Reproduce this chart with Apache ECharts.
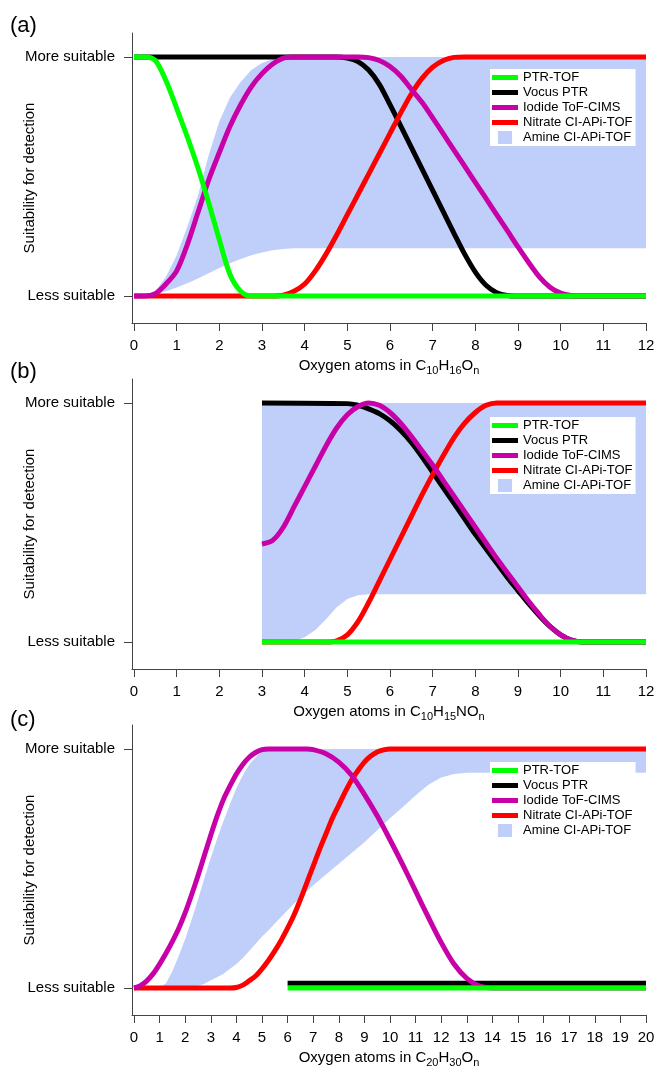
<!DOCTYPE html>
<html><head><meta charset="utf-8">
<script src="https://cdn.jsdelivr.net/npm/echarts@6/dist/echarts.min.js"></script>
<style>html,body{margin:0;padding:0;background:#fff}#c{width:656px;height:1067px}</style>
</head><body><div id="c"></div>
<script>
// ---------- data ----------
const seriesNames = ['PTR-TOF', 'Vocus PTR', 'Iodide ToF-CIMS', 'Nitrate CI-APi-TOF', 'Amine CI-APi-TOF'];
const yTickValues = [0, 1];
const yTickLabels = ['Less suitable', 'More suitable'];
const panelLabels = ['(a)', '(b)', '(c)'];
const xTicks12 = [0,1,2,3,4,5,6,7,8,9,10,11,12];
const xTicks20 = [0,1,2,3,4,5,6,7,8,9,10,11,12,13,14,15,16,17,18,19,20];

// Panel (a): C10H16On
const a_ptr = [[0,1],[0.25,1],[0.5,0.985],[0.75,0.9],[1,0.785],[1.25,0.665],[1.5,0.535],[1.75,0.39],[2,0.235],[2.25,0.09],[2.5,0.02],[2.75,0],[12,0]];
const a_vocus = [[0,1],[4.75,1],[5,0.995],[5.25,0.98],[5.5,0.945],[5.75,0.885],[6,0.8],[6.25,0.712],[6.5,0.622],[6.75,0.532],[7,0.442],[7.25,0.352],[7.5,0.262],[7.75,0.175],[8,0.1],[8.25,0.045],[8.5,0.014],[8.75,0.002],[9,0],[12,0]];
const a_iodide = [[0,0],[0.25,0],[0.5,0.01],[0.75,0.05],[1,0.105],[1.25,0.215],[1.5,0.35],[1.75,0.485],[2,0.6],[2.25,0.71],[2.5,0.8],[2.75,0.875],[3,0.93],[3.25,0.97],[3.5,0.995],[3.75,1],[5.25,1],[5.5,0.997],[5.75,0.985],[6,0.96],[6.25,0.92],[6.5,0.865],[6.75,0.81],[7,0.745],[7.25,0.678],[7.5,0.61],[7.75,0.543],[8,0.475],[8.25,0.408],[8.5,0.34],[8.75,0.273],[9,0.205],[9.25,0.14],[9.5,0.08],[9.75,0.037],[10,0.012],[10.25,0.002],[10.5,0],[12,0]];
const a_nitrate = [[0,0],[3.25,0],[3.5,0.003],[3.75,0.02],[4,0.05],[4.25,0.105],[4.5,0.175],[4.75,0.255],[5,0.34],[5.25,0.425],[5.5,0.51],[5.75,0.595],[6,0.68],[6.25,0.765],[6.5,0.845],[6.75,0.91],[7,0.957],[7.25,0.985],[7.5,0.998],[7.75,1],[12,1]];
const a_amineX    = [0.25,0.5,0.75,1,1.25,1.5,1.75,2,2.25,2.5,2.75,3,3.25,3.5,3.75,12];
const a_amineLow  = [0,0.008,0.02,0.035,0.053,0.073,0.095,0.117,0.137,0.155,0.17,0.182,0.191,0.197,0.2,0.2];
const a_amineHigh = [0,0.02,0.08,0.17,0.29,0.42,0.59,0.73,0.83,0.895,0.945,0.975,0.99,0.998,1,1];

// Panel (b): C10H15NOn
const b_ptr = [[3,0],[12,0]];
const b_vocus = [[3,1],[5,0.997],[5.25,0.99],[5.5,0.975],[5.75,0.955],[6,0.925],[6.25,0.885],[6.5,0.835],[6.75,0.775],[7,0.71],[7.25,0.645],[7.5,0.58],[7.75,0.515],[8,0.45],[8.25,0.39],[8.5,0.33],[8.75,0.27],[9,0.215],[9.25,0.16],[9.5,0.11],[9.75,0.065],[10,0.03],[10.25,0.008],[10.5,0],[12,0]];
const b_iodide = [[3,0.41],[3.25,0.425],[3.5,0.48],[3.75,0.565],[4,0.65],[4.25,0.735],[4.5,0.82],[4.75,0.895],[5,0.95],[5.25,0.985],[5.5,1],[5.75,0.99],[6,0.96],[6.25,0.915],[6.5,0.86],[6.75,0.8],[7,0.74],[7.25,0.675],[7.5,0.61],[7.75,0.545],[8,0.48],[8.25,0.415],[8.5,0.35],[8.75,0.29],[9,0.23],[9.25,0.17],[9.5,0.115],[9.75,0.065],[10,0.03],[10.25,0.008],[10.5,0],[12,0]];
const b_nitrate = [[3,0],[4.5,0],[4.75,0.005],[5,0.03],[5.25,0.085],[5.5,0.165],[5.75,0.255],[6,0.345],[6.25,0.435],[6.5,0.525],[6.75,0.615],[7,0.7],[7.25,0.78],[7.5,0.855],[7.75,0.915],[8,0.96],[8.25,0.99],[8.5,1],[12,1]];
const b_amineX    = [3,3.5,3.75,4,4.25,4.5,4.75,5,5.25,5.5,12];
const b_amineLow  = [0,0,0.003,0.02,0.05,0.095,0.145,0.18,0.195,0.2,0.2];
const b_amineHigh = [1,1,1,1,1,1,1,1,1,1,1];

// Panel (c): C20H30On
const c_ptr = [[6,0],[20,0]];
const c_vocus = [[6,0.02],[20,0.02]];
const c_iodide = [[0,0],[0.25,0.01],[0.5,0.03],[0.75,0.06],[1,0.1],[1.25,0.145],[1.5,0.195],[1.75,0.25],[2,0.315],[2.25,0.39],[2.5,0.47],[2.75,0.555],[3,0.64],[3.25,0.72],[3.5,0.79],[3.75,0.845],[4,0.895],[4.25,0.935],[4.5,0.965],[4.75,0.985],[5,0.997],[5.25,1],[6.75,1],[7,0.997],[7.5,0.98],[8,0.945],[8.5,0.89],[9,0.81],[9.5,0.72],[10,0.62],[10.5,0.515],[11,0.405],[11.5,0.295],[12,0.19],[12.5,0.1],[13,0.04],[13.5,0.008],[14,0],[20,0]];
const c_nitrate = [[0,0],[3.75,0],[4,0.002],[4.25,0.012],[4.5,0.03],[4.75,0.05],[5,0.08],[5.25,0.115],[5.5,0.155],[5.75,0.2],[6,0.25],[6.25,0.305],[6.5,0.37],[6.75,0.44],[7,0.51],[7.25,0.58],[7.5,0.645],[7.75,0.71],[8,0.765],[8.25,0.82],[8.5,0.87],[8.75,0.91],[9,0.945],[9.25,0.97],[9.5,0.987],[9.75,0.996],[10,1],[20,1]];
const c_amineX    = [1,1.25,1.5,1.75,2,2.25,2.5,2.75,3,3.25,3.5,3.75,4,4.25,4.5,4.75,5,5.25,5.5,6,6.5,7,7.5,8,8.5,9,9.5,10,10.5,11,11.5,12,12.5,13,20];
const c_amineLow  = [0,0,0,0,0,0.002,0.008,0.018,0.032,0.045,0.06,0.08,0.1,0.125,0.155,0.185,0.215,0.24,0.27,0.325,0.38,0.43,0.475,0.52,0.565,0.61,0.66,0.71,0.757,0.805,0.85,0.88,0.895,0.9,0.9];
const c_amineHigh = [0,0.02,0.07,0.135,0.205,0.285,0.37,0.46,0.545,0.625,0.7,0.77,0.835,0.89,0.935,0.965,0.99,1,1,1,1,1,1,1,1,1,1,1,1,1,1,1,1,1,1];

// ---------- styling & layout ----------
const COLORS = {ptr:'#00FF00', vocus:'#000000', iodide:'#C800A8', nitrate:'#FF0000', amine:'#BFCFFA'};
const AXIS = '#444444';
const FONT = 'Liberation Sans, Arial, Helvetica, sans-serif';
const gridTops = [33, 379, 725];
const legendTops = [69, 417, 762];
const titleTops = [15, 361, 709];
// small left pad so the x axis line meets the y axis (2 px before 0)
const xMins = [-2 / 42.667, -2 / 42.667, -2 / 25.6];
const xMaxes = [12, 12, 20];
const xTickSets = [xTicks12, xTicks12, xTicks20];
const xNames = [
  '{m|Oxygen atoms in C}{s|10}{m|H}{s|16}{m|O}{s|n}',
  '{m|Oxygen atoms in C}{s|10}{m|H}{s|15}{m|NO}{s|n}',
  '{m|Oxygen atoms in C}{s|20}{m|H}{s|30}{m|O}{s|n}'
];
const panels = [
  {ptr:a_ptr, vocus:a_vocus, iodide:a_iodide, nitrate:a_nitrate, ax:a_amineX, lo:a_amineLow, hi:a_amineHigh},
  {ptr:b_ptr, vocus:b_vocus, iodide:b_iodide, nitrate:b_nitrate, ax:b_amineX, lo:b_amineLow, hi:b_amineHigh},
  {ptr:c_ptr, vocus:c_vocus, iodide:c_iodide, nitrate:c_nitrate, ax:c_amineX, lo:c_amineLow, hi:c_amineHigh}
];

const grid = [], xAxis = [], yAxis = [], series = [], legend = [], title = [];
const lineIcon = 'path://M0,0H26V5H0Z';
const boxIcon = 'path://M0,0H13V12H0Z';

panels.forEach((p, i) => {
  grid.push({left:132, right:10, top:gridTops[i], height:290, containLabel:false, outerBoundsMode:'none'});
  xAxis.push({
    gridIndex:i, type:'value', min:xMins[i], max:xMaxes[i],
    axisLine:{show:true, onZero:false, lineStyle:{color:AXIS, width:1}},
    axisTick:{show:true, length:8, customValues:xTickSets[i], lineStyle:{color:AXIS}},
    axisLabel:{customValues:xTickSets[i], fontSize:15, color:'#000', margin:15, fontFamily:FONT},
    splitLine:{show:false},
    name:xNames[i], nameLocation:'middle', nameGap:35, nameMoveOverlap:false,
    nameTextStyle:{fontFamily:FONT, color:'#000', rich:{
      m:{fontSize:15, verticalAlign:'top', fontFamily:FONT, color:'#000'},
      s:{fontSize:11, verticalAlign:'top', padding:[7,0,0,0], fontFamily:FONT, color:'#000'}
    }}
  });
  yAxis.push({
    gridIndex:i, type:'value', min:-0.113, max:1.1,
    axisLine:{show:true, onZero:false, lineStyle:{color:AXIS, width:1}},
    axisTick:{show:true, length:8, customValues:yTickValues, lineStyle:{color:AXIS}},
    axisLabel:{customValues:yTickValues, formatter:v => yTickLabels[yTickValues.indexOf(v)],
      fontSize:15, color:'#000', margin:17, fontFamily:FONT},
    splitLine:{show:false},
    name:'Suitability for detection', nameLocation:'middle', nameGap:95, nameMoveOverlap:false,
    nameTextStyle:{fontSize:15, color:'#000', fontFamily:FONT}
  });
  title.push({text:panelLabels[i], left:10, top:titleTops[i], padding:0,
    textStyle:{fontSize:22, fontWeight:'normal', color:'#000', fontFamily:FONT}});
  legend.push({
    orient:'vertical', left:490, top:legendTops[i], itemWidth:26, itemHeight:13, itemGap:2,
    padding:[2,3,2,2], backgroundColor:'#fff', selectedMode:false,
    itemStyle:{borderWidth:0},
    textStyle:{fontSize:13, lineHeight:13, color:'#000', fontFamily:FONT},
    data: seriesNames.map((n, k) => ({name:n, icon: k < 4 ? lineIcon : boxIcon}))
  });

  // amine band: one polygon between the upper and lower boundaries, placed via the axes
  series.push({
    name:seriesNames[4], type:'custom', xAxisIndex:i, yAxisIndex:i, z:1, silent:true,
    itemStyle:{color:COLORS.amine},
    encode:{x:0, y:[1,2]},
    data: p.ax.map((x, k) => [x, p.lo[k], p.hi[k]]),
    renderItem: (params, api) => {
      if (params.dataIndex !== 0) return null;
      const pts = [];
      for (let k = 0; k < p.ax.length; k++) pts.push(api.coord([p.ax[k], p.hi[k]]));
      for (let k = p.ax.length - 1; k >= 0; k--) pts.push(api.coord([p.ax[k], p.lo[k]]));
      return {type:'polygon', shape:{points:pts}, style:{fill:COLORS.amine, stroke:null}};
    }
  });
  const lines = [
    ['vocus', 1, p.vocus], ['nitrate', 3, p.nitrate], ['iodide', 2, p.iodide], ['ptr', 0, p.ptr]
  ];
  lines.forEach(([key, idx, data], k) => {
    series.push({
      name:seriesNames[idx], type:'line', xAxisIndex:i, yAxisIndex:i,
      showSymbol:false, symbol:'none', smooth:0.3, silent:true, data:data,
      itemStyle:{color:COLORS[key]},
      lineStyle:{width:5, color:COLORS[key], cap:'butt', join:'round'}, z:2 + k
    });
  });
});

const chart = echarts.init(document.getElementById('c'), null, {renderer:'canvas'});
chart.setOption({
  animation:false,
  backgroundColor:'#ffffff',
  textStyle:{fontFamily:FONT},
  title, grid, xAxis, yAxis, legend, series
});
</script></body></html>
